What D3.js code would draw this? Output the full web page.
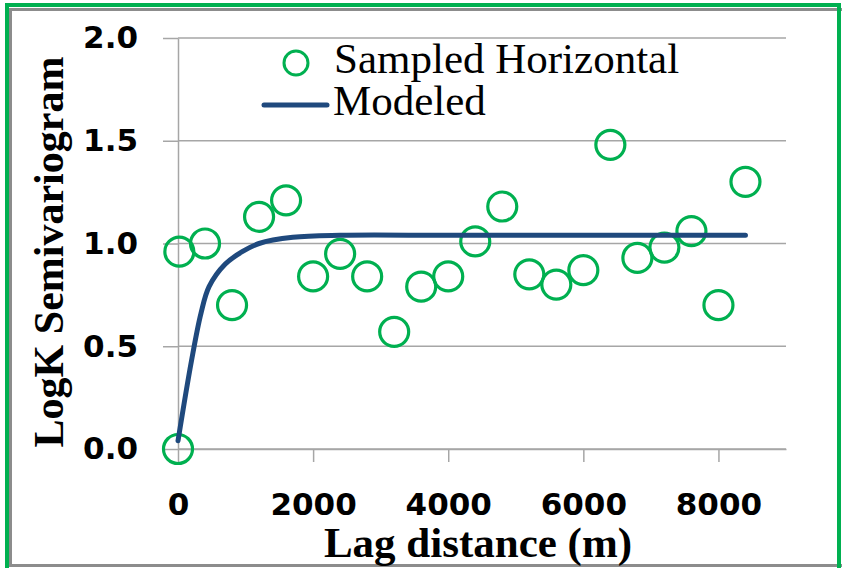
<!DOCTYPE html>
<html>
<head>
<meta charset="utf-8">
<script src="https://cdn.jsdelivr.net/npm/d3@7"></script>
<style>
  body { margin: 0; background: #fff; }
  .tick text { font-family: "DejaVu Sans", sans-serif; font-weight: bold; font-size: 31px; fill: #000; }
  .title { font-family: "Liberation Serif", "Times New Roman", serif; font-weight: bold; fill: #000; }
  .legend { font-family: "Liberation Serif", "Times New Roman", serif; font-size: 43px; fill: #000; }
</style>
</head>
<body>
<div id="chart"></div>
<script>
// sampled semivariogram (lag in m, logK semivariance)
const sampledLag = [0, 20, 400, 800, 1200, 1600, 2000, 2400, 2800, 3200, 3600, 4000,
                    4400, 4800, 5200, 5600, 6000, 6400, 6800, 7200, 7600, 8000, 8400];
const sampledGamma = [0.00, 0.96, 1.00, 0.70, 1.13, 1.21, 0.84, 0.95, 0.84, 0.57, 0.79, 0.84,
                      1.01, 1.18, 0.85, 0.80, 0.87, 1.48, 0.93, 0.98, 1.06, 0.70, 1.30];

// modeled curve
const modelLag = [0, 200, 340, 460, 700, 950, 1200, 1700, 2400, 4000, 6000, 8400];
const modelGamma = [0.04, 0.43, 0.66, 0.79, 0.90, 0.96, 1.00, 1.03, 1.04, 1.04, 1.04, 1.04];

const xTicks = [0, 2000, 4000, 6000, 8000];
const yTicks = [0, 0.5, 1.0, 1.5, 2.0];
const seriesNames = ['Sampled Horizontal', 'Modeled'];

const W = 842, H = 568;
const green = '#00B050', blue = '#1F497D', grid = '#A6A6A6';

let svg = d3.select('#chart').append('svg')
    .attr('width', W)
    .attr('height', H);

// frame
svg.append('rect').attr('x', 0).attr('y', 0).attr('width', W).attr('height', H).attr('fill', '#fff');
svg.append('rect')
    .attr('x', 10.5).attr('y', 9.5).attr('width', 880).attr('height', 556)
    .attr('fill', 'none').attr('stroke', '#8c8c8c').attr('stroke-width', 3);
svg.append('rect')
    .attr('x', 7).attr('y', 5).attr('width', 832).attr('height', 600)
    .attr('fill', 'none').attr('stroke', green).attr('stroke-width', 4);

// scales
let x = d3.scaleLinear().domain([0, 9000]).range([178, 786]);
let y = d3.scaleLinear().domain([0, 2]).range([449, 38]);

// horizontal gridlines
svg.append('g')
  .selectAll('line')
  .data(yTicks)
  .join('line')
    .attr('x1', x(0)).attr('x2', x(9000))
    .attr('y1', d => y(d)).attr('y2', d => y(d))
    .attr('stroke', grid).attr('stroke-width', 1.5);

// axes
let yAxis = svg.append('g')
    .attr('transform', 'translate(' + x(0) + ',0)')
    .call(d3.axisLeft(y).tickValues(yTicks).tickFormat(d3.format('.1f'))
      .tickSize(15).tickSizeOuter(0).tickPadding(25));
let xAxis = svg.append('g')
    .attr('transform', 'translate(0,' + y(0) + ')')
    .call(d3.axisBottom(x).tickValues(xTicks).tickFormat(d3.format('d'))
      .tickSize(13).tickSizeOuter(0).tickPadding(31));
[xAxis, yAxis].forEach(a => {
  a.selectAll('.domain').attr('stroke', grid).attr('stroke-width', 1.5);
  a.selectAll('.tick line').attr('stroke', grid).attr('stroke-width', 1.5);
});

// sampled points
svg.append('g')
  .selectAll('circle')
  .data(sampledLag.map((d, i) => [d, sampledGamma[i]]))
  .join('circle')
    .attr('cx', d => x(d[0]))
    .attr('cy', d => y(d[1]))
    .attr('r', 14.5)
    .attr('fill', 'none')
    .attr('stroke', green)
    .attr('stroke-width', 3.2);

// modeled line
let valueline = d3.line()
    .x((d, i) => x(modelLag[i]))
    .y(d => y(d))
    .curve(d3.curveCatmullRom.alpha(0.5));
svg.append('path')
    .datum(modelGamma)
    .attr('d', valueline)
    .attr('fill', 'none')
    .attr('stroke', blue)
    .attr('stroke-width', 5)
    .attr('stroke-linecap', 'round');

// axis titles
svg.append('text')
    .attr('class', 'title')
    .attr('x', 478).attr('y', 557)
    .attr('text-anchor', 'middle')
    .style('font-size', '43px')
    .text('Lag distance (m)');
svg.append('text')
    .attr('class', 'title')
    .attr('transform', 'translate(63,252) rotate(-90)')
    .attr('text-anchor', 'middle')
    .style('font-size', '42px')
    .text('LogK Semivariogram');

// legend
let legend = svg.append('g');
legend.append('circle')
    .attr('cx', 296).attr('cy', 63).attr('r', 12)
    .attr('fill', 'none').attr('stroke', green).attr('stroke-width', 3);
legend.append('line')
    .attr('x1', 264).attr('x2', 327).attr('y1', 105).attr('y2', 105)
    .attr('stroke', blue).attr('stroke-width', 5).attr('stroke-linecap', 'round');
legend.append('text').attr('class', 'legend').attr('x', 334).attr('y', 73).text(seriesNames[0]);
legend.append('text').attr('class', 'legend').attr('x', 333).attr('y', 115).text(seriesNames[1]);
</script>
</body>
</html>
